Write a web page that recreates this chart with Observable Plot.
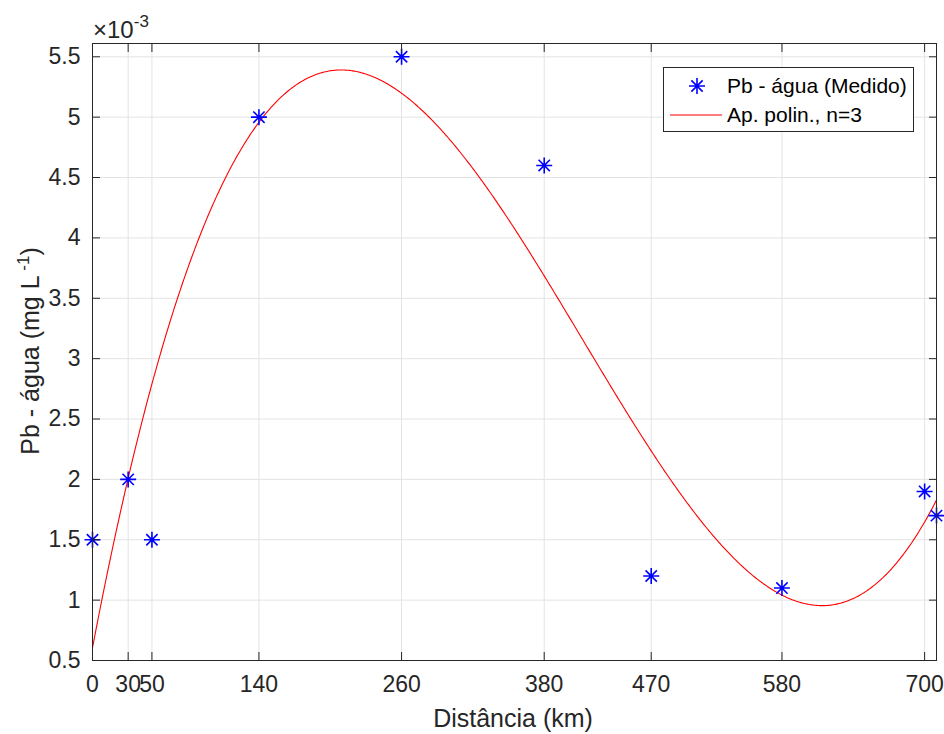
<!DOCTYPE html>
<html>
<head>
<meta charset="utf-8">
<script src="https://cdn.jsdelivr.net/npm/d3@7"></script>
<script src="https://cdn.jsdelivr.net/npm/@observablehq/plot@0.6"></script>
<style>
  html, body { margin: 0; padding: 0; background: #fff; }
  svg { display: block; }
</style>
</head>
<body>
<div id="chart"></div>
<script>
// Measured lead concentration in water along the river (×10⁻³ mg/L)
const distanceKm = [0, 30, 50, 140, 260, 380, 470, 580, 700, 710];
const pbWater = [1.5, 2.0, 1.5, 5.0, 5.5, 4.6, 1.2, 1.1, 1.9, 1.7];

const xTicks = [0, 30, 50, 140, 260, 380, 470, 580, 700];
const yTicks = [0.5, 1, 1.5, 2, 2.5, 3, 3.5, 4, 4.5, 5, 5.5];

const measured = distanceKm.map((d, i) => ({d, pb: pbWater[i]}));

// Least-squares polynomial of degree 3 (x scaled by 100 for conditioning)
function polyfit(xs, ys, n) {
  const m = n + 1;
  const A = Array.from({length: m}, () => new Array(m + 1).fill(0));
  xs.forEach((x, k) => {
    for (let i = 0; i < m; i++) {
      for (let j = 0; j < m; j++) A[i][j] += Math.pow(x, i + j);
      A[i][m] += ys[k] * Math.pow(x, i);
    }
  });
  for (let c = 0; c < m; c++) {
    let p = c;
    for (let r = c + 1; r < m; r++) if (Math.abs(A[r][c]) > Math.abs(A[p][c])) p = r;
    [A[c], A[p]] = [A[p], A[c]];
    for (let r = 0; r < m; r++) {
      if (r === c) continue;
      const f = A[r][c] / A[c][c];
      for (let k = c; k <= m; k++) A[r][k] -= f * A[c][k];
    }
  }
  return A.map((row, i) => row[m] / row[i]);
}
const coef = polyfit(distanceKm.map(d => d / 100), pbWater, 3);
const evalPoly = x => coef.reduce((s, c, i) => s + c * Math.pow(x / 100, i), 0);
const fitted = d3.range(0, 710.5, 1).map(d => ({d, pb: evalPoly(d)}));

// MATLAB-style asterisk: plus and cross overlaid
const star = {
  draw(ctx, size) {
    const r = Math.sqrt(size / Math.PI);
    const q = r * Math.SQRT1_2;
    ctx.moveTo(-r, 0); ctx.lineTo(r, 0);
    ctx.moveTo(0, -r); ctx.lineTo(0, r);
    ctx.moveTo(-q, -q); ctx.lineTo(q, q);
    ctx.moveTo(-q, q); ctx.lineTo(q, -q);
  }
};
const starR = 8;

const ink = "#262626";
const grid = "#e3e3e3";
const font = "'Liberation Sans', Arial, sans-serif";

const plot = Plot.plot({
  width: 944,
  height: 734,
  marginLeft: 92,
  marginRight: 8,
  marginTop: 43,
  marginBottom: 74,
  style: {fontFamily: font, fontSize: "23px", color: ink, background: "#fff"},
  x: {domain: [0, 710], ticks: xTicks, label: null},
  y: {domain: [0.5, 5.61], ticks: yTicks, label: null},
  marks: [
    Plot.gridX(xTicks, {stroke: grid, strokeOpacity: 1}),
    Plot.gridY(yTicks, {stroke: grid, strokeOpacity: 1}),
    Plot.line(fitted, {x: "d", y: "pb", stroke: "#ff0000", strokeWidth: 1.1}),
    Plot.dot(measured, {x: "d", y: "pb", symbol: star, r: starR, stroke: "#0000ff", strokeWidth: 1.6, fill: "none"}),
    // inward tick marks on all four sides
    Plot.axisX(xTicks, {anchor: "bottom", tickSize: -8, text: null, label: null, stroke: ink}),
    Plot.axisX(xTicks, {anchor: "top", tickSize: -8, text: null, label: null, stroke: ink}),
    Plot.axisY(yTicks, {anchor: "left", tickSize: -8, text: null, label: null, stroke: ink}),
    Plot.axisY(yTicks, {anchor: "right", tickSize: -8, text: null, label: null, stroke: ink}),
    // tick labels
    Plot.axisX(xTicks, {anchor: "bottom", tickSize: 0, tickPadding: 15, label: null, fill: ink, fontSize: 23}),
    Plot.axisY(yTicks, {anchor: "left", tickSize: 0, tickPadding: 12, label: null, fill: ink, fontSize: 23, tickFormat: d => String(d)}),
    Plot.frame({stroke: ink, strokeWidth: 1})
  ]
});

const svg = d3.select(plot);

// exponent above the y axis
const expo = svg.append("text")
  .attr("x", 93).attr("y", 38)
  .attr("text-anchor", "start")
  .attr("font-family", font).attr("font-size", 24).attr("fill", ink);
expo.append("tspan").text("×10");
expo.append("tspan").attr("dy", -11).attr("font-size", 17).text("-3");

// x-axis title
svg.append("text")
  .attr("x", 513).attr("y", 727)
  .attr("text-anchor", "middle")
  .attr("font-family", font).attr("font-size", 25).attr("fill", ink)
  .text("Distância (km)");

// y-axis title
const yl = svg.append("text")
  .attr("transform", "translate(39,351) rotate(-90)")
  .attr("text-anchor", "middle")
  .attr("font-family", font).attr("font-size", 25).attr("fill", ink);
yl.append("tspan").text("Pb - água (mg L");
yl.append("tspan").attr("dy", -10).attr("font-size", 17).text(" -1");
yl.append("tspan").attr("dy", 10).text(")");

// legend
const lg = svg.append("g")
  .attr("font-family", font).attr("font-size", 21).attr("fill", "#000")
  .attr("text-anchor", "start");
lg.append("rect")
  .attr("x", 663.5).attr("y", 67.5).attr("width", 250).attr("height", 64)
  .attr("fill", "#fff").attr("stroke", ink).attr("stroke-width", 1);
lg.append("path")
  .attr("transform", "translate(697,86)")
  .attr("d", d3.symbol(star, Math.PI * starR * starR)())
  .attr("stroke", "#0000ff").attr("stroke-width", 1.6).attr("fill", "none");
lg.append("line")
  .attr("x1", 670).attr("x2", 722).attr("y1", 115).attr("y2", 115)
  .attr("stroke", "#ff0000").attr("stroke-width", 1.1);
lg.append("text").attr("x", 727).attr("y", 93).text("Pb - água (Medido)");
lg.append("text").attr("x", 727).attr("y", 122).text("Ap. polin., n=3");

document.getElementById("chart").appendChild(plot);
</script>
</body>
</html>
